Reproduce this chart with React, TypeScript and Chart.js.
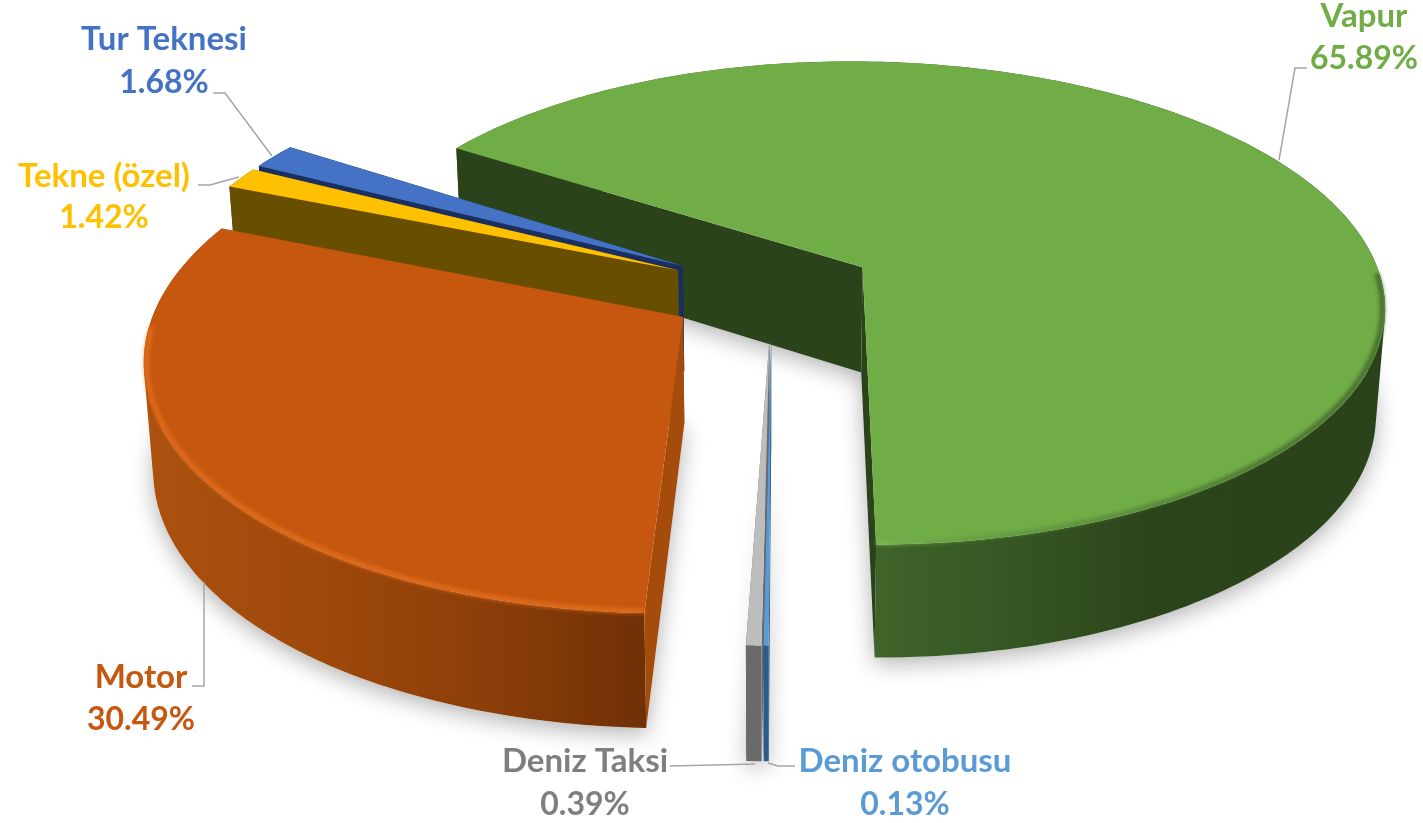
import React, { useEffect, useRef } from "react";
import { Chart, registerables } from "chart.js";

Chart.register(...registerables);

const categories = ["Vapur", "Deniz otobusu", "Deniz Taksi", "Motor", "Tekne (özel)", "Tur Teknesi"];
const shares = [65.89, 0.13, 0.39, 30.49, 1.42, 1.68];
const faceColors = ["#70AD47", "#5B9BD5", "#BDBDBD", "#C5570F", "#FFC000", "#4472C4"];
const textColors = ["#70AD47", "#5B9BD5", "#7F7F7F", "#C5570F", "#FFC000", "#4472C4"];
const sideColors = ["#2B431B", "#2C5B87", "#6A6A6A", "#A54C0D", "#674E00", "#1A2F60"];
const paintOrder = [0, 5, 4, 2, 1, 3];

const view = { X0: 772, Y0: 290, A: 243, B: 522, p: 0.15, D: 106, q: 0.07, shrink: 0.015 };

// [text centre x, name y, percent y]
const labelPlaces = [
  [1364, 16, 59],
  [905, 761, 805],
  [585, 761, 805],
  [141, 677, 720],
  [104, 176, 218],
  [164, 39, 83],
];
const leaders = [
  [[1307, 68], [1295, 68], [1279, 160]],
  [[795, 766], [778, 766], [768, 763]],
  [[670, 766], [755, 764]],
  [[192, 686], [204, 686], [204, 582]],
  [[198, 185], [210, 185], [239, 177]],
  [[213, 93], [225, 93], [272, 156]],
];

type Pt = { x: number; y: number };

function project(u: number, v: number, depth: number): Pt {
  const w = 1 + view.p * v;
  return {
    x: view.X0 + ((view.B * u) / w) * (1 - view.shrink * depth),
    y: view.Y0 - (view.A * v) / w + (depth * view.D) / (1 + view.q * v),
  };
}

function slicePoint(arc: any, angle: number, radial: number, depth: number) {
  const mid = (arc.startAngle + arc.endAngle) / 2;
  const off = arc.options.offset / arc.outerRadius;
  const u = off * Math.cos(mid) + radial * Math.cos(angle);
  const v = -(off * Math.sin(mid) + radial * Math.sin(angle));
  return project(u, v, depth);
}

function arcAngles(arc: any) {
  const n = Math.max(2, Math.ceil(((arc.endAngle - arc.startAngle) * 180) / Math.PI));
  const out: number[] = [];
  for (let i = 0; i <= n; i++) out.push(arc.startAngle + ((arc.endAngle - arc.startAngle) * i) / n);
  return out;
}

function poly(ctx: CanvasRenderingContext2D, pts: Pt[]) {
  ctx.beginPath();
  pts.forEach((p, i) => (i ? ctx.lineTo(p.x, p.y) : ctx.moveTo(p.x, p.y)));
  ctx.closePath();
}

function signedArea(pts: Pt[]) {
  let s = 0;
  pts.forEach((p, i) => {
    const q = pts[(i + 1) % pts.length];
    s += p.x * q.y - q.x * p.y;
  });
  return s;
}

function wallGradient(ctx: CanvasRenderingContext2D, i: number) {
  if (i === 0) {
    const g = ctx.createLinearGradient(877, 0, 1385, 0);
    g.addColorStop(0, "#3F6329");
    g.addColorStop(0.25, "#365724");
    g.addColorStop(0.55, "#2B441B");
    g.addColorStop(1, "#2B431B");
    return g;
  }
  if (i === 3) {
    const g = ctx.createLinearGradient(145, 0, 650, 0);
    g.addColorStop(0, "#AC520F");
    g.addColorStop(0.35, "#9E480B");
    g.addColorStop(0.7, "#8A3D09");
    g.addColorStop(1, "#6F3006");
    return g;
  }
  return sideColors[i];
}

function rimStyle(ctx: CanvasRenderingContext2D, i: number) {
  if (i === 0) {
    const g = ctx.createLinearGradient(877, 0, 1385, 0);
    g.addColorStop(0, "rgba(125,185,85,0.9)");
    g.addColorStop(0.2, "rgba(90,140,58,0.6)");
    g.addColorStop(0.7, "rgba(50,78,32,0.7)");
    g.addColorStop(1, "rgba(43,67,27,0.8)");
    return g;
  }
  if (i === 3) return "rgba(236,116,32,0.9)";
  return null;
}

const pie3d = {
  id: "pie3d",
  beforeDatasetDraw(chart: any) {
    const ctx: CanvasRenderingContext2D = chart.ctx;
    const arcs = chart.getDatasetMeta(0).data;

    // soft ground shadow
    ctx.save();
    ctx.shadowColor = "rgba(0,0,0,0.3)";
    ctx.shadowBlur = 22;
    ctx.shadowOffsetY = 6;
    ctx.fillStyle = "#fff";
    for (const i of paintOrder) {
      const arc = arcs[i];
      const a = arcAngles(arc);
      poly(ctx, [slicePoint(arc, 0, 0, 1), ...a.map((t) => slicePoint(arc, t, 1, 1))]);
      ctx.fill();
    }
    ctx.restore();

    for (const i of paintOrder) {
      const arc = arcs[i];
      const a = arcAngles(arc);
      const top0 = slicePoint(arc, 0, 0, 0);
      const bot0 = slicePoint(arc, 0, 0, 1);

      // outer wall: all strips in one path, wound the same way
      ctx.fillStyle = wallGradient(ctx, i);
      ctx.beginPath();
      for (let k = 0; k + 1 < a.length; k++) {
        let quad = [
          slicePoint(arc, a[k], 1, 0),
          slicePoint(arc, a[k + 1], 1, 0),
          slicePoint(arc, a[k + 1], 1, 1),
          slicePoint(arc, a[k], 1, 1),
        ];
        if (signedArea(quad) < 0) quad = quad.reverse();
        quad.forEach((p, j) => (j ? ctx.lineTo(p.x, p.y) : ctx.moveTo(p.x, p.y)));
        ctx.closePath();
      }
      ctx.fill("nonzero");

      ctx.fillStyle = sideColors[i];
      poly(ctx, [top0, slicePoint(arc, a[0], 1, 0), slicePoint(arc, a[0], 1, 1), bot0]);
      ctx.fill();
      const last = a[a.length - 1];
      poly(ctx, [top0, slicePoint(arc, last, 1, 0), slicePoint(arc, last, 1, 1), bot0]);
      ctx.fill();

      const face = [top0, ...a.map((t) => slicePoint(arc, t, 1, 0))];
      ctx.fillStyle = faceColors[i];
      poly(ctx, face);
      ctx.fill();

      const rim = rimStyle(ctx, i);
      if (rim) {
        ctx.save();
        ctx.filter = "blur(2px)";
        ctx.strokeStyle = rim;
        ctx.lineWidth = 4;
        ctx.beginPath();
        let started = false;
        a.forEach((t) => {
          if (Math.sin(t) < 0.02) return;
          const p = slicePoint(arc, t, 0.995, 0);
          if (started) ctx.lineTo(p.x, p.y);
          else ctx.moveTo(p.x, p.y);
          started = true;
        });
        ctx.stroke();
        ctx.restore();
      }
    }
    return false;
  },
  afterDatasetsDraw(chart: any) {
    const ctx: CanvasRenderingContext2D = chart.ctx;
    ctx.save();
    ctx.strokeStyle = "#A6A6A6";
    ctx.lineWidth = 1.5;
    leaders.forEach((line) => {
      ctx.beginPath();
      line.forEach(([x, y], k) => (k ? ctx.lineTo(x, y) : ctx.moveTo(x, y)));
      ctx.stroke();
    });
    ctx.textAlign = "center";
    ctx.textBaseline = "middle";
    categories.forEach((name, i) => {
      const [cx, y1, y2] = labelPlaces[i];
      ctx.fillStyle = textColors[i];
      ctx.font = 'bold 33px Lato, "Open Sans", sans-serif';
      ctx.fillText(name, cx, y1);
      ctx.font = 'bold 32px Lato, "Open Sans", sans-serif';
      ctx.fillText(shares[i].toFixed(2) + "%", cx, y2);
    });
    ctx.restore();
  },
};

export default function App() {
  const ref = useRef<HTMLCanvasElement>(null);
  useEffect(() => {
    document.body.style.margin = "0";
    const chart = new Chart(ref.current!, {
      type: "pie",
      data: {
        labels: categories,
        datasets: [{ data: shares, backgroundColor: faceColors, borderWidth: 0, offset: 60, radius: 300 } as any],
      },
      options: {
        responsive: false,
        animation: false,
        rotation: -57,
        events: [],
        plugins: { legend: { display: false }, tooltip: { enabled: false } },
      },
      plugins: [pie3d as any],
    });
    return () => chart.destroy();
  }, []);
  return <canvas ref={ref} width={1423} height={823} style={{ display: "block" }} />;
}
